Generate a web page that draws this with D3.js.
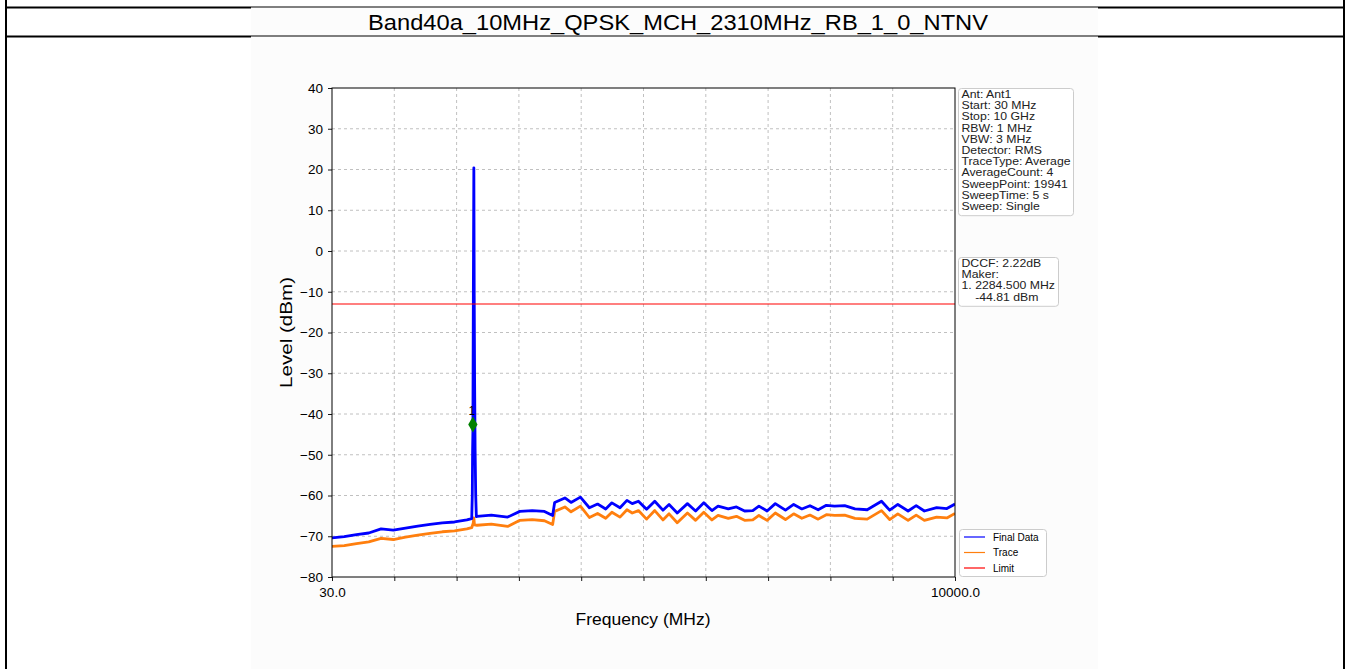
<!DOCTYPE html>
<html>
<head>
<meta charset="utf-8">
<script src="https://cdn.jsdelivr.net/npm/d3@7"></script>
<style>
  body { margin: 0; background: #fff; }
  svg text { font-family: "Liberation Sans", Arial, sans-serif; }
</style>
</head>
<body>
<div id="chart"></div>
<script>
const titleText = "Band40a_10MHz_QPSK_MCH_2310MHz_RB_1_0_NTNV";

// Final Data (blue) - frequency in MHz, level in dBm
const finalFreq = [30, 226, 422, 618, 815, 1011, 1207, 1403, 1599, 1795, 1991, 2188, 2266,
    2275, 2280, 2284.5, 2292, 2300, 2306, 2312, 2320, 2330, 2340,
    2351, 2580, 2841, 3037, 3234, 3430, 3561, 3593, 3757, 3855, 4005, 4149, 4280, 4410, 4509,
    4639, 4750, 4835, 4934, 5064, 5195, 5326, 5424, 5555, 5718, 5849, 5980, 6110, 6208, 6372,
    6502, 6633, 6764, 6862, 6993, 7124, 7287, 7418, 7549, 7679, 7810, 7941, 8072, 8235, 8399,
    8595, 8824, 8954, 9085, 9249, 9379, 9510, 9706, 9870, 10000];
const finalLevel = [-70.4, -70.1, -69.6, -69.2, -68.2, -68.5, -68.0, -67.5, -67.1, -66.7, -66.5, -66.0, -65.7,
    -60.0, -49.0, -44.81, -10.8, 20.4, -11.0, -31.5, -48.5, -60.0, -65.2,
    -65.1, -64.8, -65.3, -63.9, -63.7, -63.9, -64.9, -61.7, -60.6, -61.7, -60.4, -63.0, -62.1, -63.3, -61.8,
    -63.0, -61.2, -62.0, -61.4, -63.4, -61.4, -63.6, -62.2, -64.3, -62.0, -63.8, -61.8, -63.7, -62.6, -63.3,
    -62.8, -63.8, -63.7, -62.6, -63.8, -62.0, -63.6, -62.2, -63.3, -62.5, -63.5, -62.4, -62.6, -62.5, -63.3,
    -63.5, -61.4, -63.6, -62.2, -63.8, -62.5, -63.8, -63.0, -63.2, -62.1];

// Trace (orange)
const traceFreq = [30, 226, 422, 618, 815, 1011, 1207, 1403, 1599, 1795, 1991, 2188, 2266,
    2290, 2300, 2310,
    2351, 2580, 2841, 3037, 3234, 3430, 3561, 3593, 3757, 3855, 4005, 4149, 4280, 4410, 4509,
    4639, 4750, 4835, 4934, 5064, 5195, 5326, 5424, 5555, 5718, 5849, 5980, 6110, 6208, 6372,
    6502, 6633, 6764, 6862, 6993, 7124, 7287, 7418, 7549, 7679, 7810, 7941, 8072, 8235, 8399,
    8595, 8824, 8954, 9085, 9249, 9379, 9510, 9706, 9870, 10000];
const traceLevel = [-72.5, -72.3, -71.8, -71.4, -70.5, -70.8, -70.2, -69.7, -69.3, -68.9, -68.7, -68.2, -67.9,
    -66.8, -65.5, -67.2,
    -67.3, -67.0, -67.6, -66.1, -65.9, -66.2, -67.1, -63.9, -62.8, -64.0, -62.6, -65.4, -64.4, -65.6, -64.1,
    -65.3, -63.5, -64.3, -63.7, -65.8, -63.7, -66.0, -64.5, -66.7, -64.3, -66.1, -64.1, -66.0, -64.9, -65.6,
    -65.1, -66.1, -66.0, -64.9, -66.1, -64.3, -65.9, -64.5, -65.6, -64.8, -65.8, -64.7, -64.9, -64.8, -65.6,
    -65.8, -63.7, -65.9, -64.5, -66.1, -64.8, -66.1, -65.3, -65.5, -64.4];

const limitLevel = -13;
const markerFreq = 2284.5;
const markerLevel = -44.81;
const dccf = 2.22;

const yTicks = [40, 30, 20, 10, 0, -10, -20, -30, -40, -50, -60, -70, -80];
const xTickCount = 10;

const infoLines = ["Ant: Ant1", "Start: 30 MHz", "Stop: 10 GHz", "RBW: 1 MHz", "VBW: 3 MHz",
    "Detector: RMS", "TraceType: Average", "AverageCount: 4", "SweepPoint: 19941",
    "SweepTime: 5 s", "Sweep: Single"];
const markerLines = ["DCCF: 2.22dB", "Maker:", "1. 2284.500 MHz", "    -44.81 dBm"];
const legendNames = ["Final Data", "Trace", "Limit"];
const legendColors = ["#0000ff", "#ff7f0e", "#ff0000"];

const W = 1346, H = 669;
const plot = {left: 332, right: 955, top: 88, bottom: 577};

const svg = d3.select("#chart").append("svg")
    .attr("width", W).attr("height", H);

// figure background (image area)
svg.append("rect").attr("x", 251).attr("y", 8).attr("width", 847).attr("height", H - 8)
    .attr("fill", "#fcfcfc");

// table borders
const border = svg.append("g").attr("stroke", "#000");
[7.5, 36.5].forEach(yy => {
    border.append("line").attr("x1", 5).attr("x2", 251).attr("y1", yy).attr("y2", yy).attr("stroke-width", 2);
    border.append("line").attr("x1", 1098).attr("x2", 1345).attr("y1", yy).attr("y2", yy).attr("stroke-width", 2);
    border.append("line").attr("x1", 251).attr("x2", 1098).attr("y1", yy - 0.5).attr("y2", yy - 0.5).attr("stroke-width", 1);
});
border.append("line").attr("x1", 6).attr("x2", 6).attr("y1", 0).attr("y2", H).attr("stroke-width", 2);
border.append("line").attr("x1", 1344).attr("x2", 1344).attr("y1", 0).attr("y2", H).attr("stroke-width", 2);

svg.append("text").attr("x", 678).attr("y", 30).attr("text-anchor", "middle")
    .attr("font-size", 22).attr("textLength", 620).attr("lengthAdjust", "spacingAndGlyphs")
    .attr("fill", "#000").text(titleText);

const x = d3.scaleLinear().domain([30, 10000]).range([plot.left, plot.right]);
const y = d3.scaleLinear().domain([-80, 40]).range([plot.bottom, plot.top]);

svg.append("rect").attr("x", plot.left).attr("y", plot.top)
    .attr("width", plot.right - plot.left).attr("height", plot.bottom - plot.top).attr("fill", "#fff");

const xTickVals = d3.range(xTickCount + 1).map(i => 30 + i * (10000 - 30) / xTickCount);

// grid
const grid = svg.append("g").attr("stroke", "#b0b0b0").attr("stroke-width", 0.8).attr("stroke-dasharray", "3,3");
grid.selectAll(".gx").data(xTickVals.slice(1, -1)).enter().append("line")
    .attr("x1", d => x(d)).attr("x2", d => x(d)).attr("y1", plot.top).attr("y2", plot.bottom);
grid.selectAll(".gy").data(yTicks.slice(1, -1)).enter().append("line")
    .attr("x1", plot.left).attr("x2", plot.right).attr("y1", d => y(d)).attr("y2", d => y(d));

svg.append("clipPath").attr("id", "clip").append("rect")
    .attr("x", plot.left).attr("y", plot.top).attr("width", plot.right - plot.left).attr("height", plot.bottom - plot.top);

const line = d3.line().x(d => x(d[0])).y(d => y(d[1]));
const g = svg.append("g").attr("clip-path", "url(#clip)");

g.append("path").datum(traceFreq.map((f, i) => [f, traceLevel[i]]))
    .attr("d", line).attr("fill", "none").attr("stroke", "#ff7f0e").attr("stroke-width", 2.8)
    .attr("stroke-linejoin", "round");
g.append("path").datum(finalFreq.map((f, i) => [f, finalLevel[i]]))
    .attr("d", line).attr("fill", "none").attr("stroke", "#0000ff").attr("stroke-width", 2.8)
    .attr("stroke-linejoin", "round");
g.append("line").attr("x1", x(30)).attr("x2", x(10000)).attr("y1", y(limitLevel)).attr("y2", y(limitLevel))
    .attr("stroke", "#ff0000").attr("stroke-width", 1.2);

// marker
const mx = x(markerFreq), my = y(markerLevel + dccf);
svg.append("path").attr("d", d3.symbol().type(d3.symbolDiamond).size(75)())
    .attr("transform", `translate(${mx},${my})`).attr("fill", "#008000");
svg.append("text").attr("x", mx - 1).attr("y", my - 10).attr("text-anchor", "middle")
    .attr("font-size", 12).attr("fill", "#000").text("1");

// axes
const xAxis = d3.axisBottom(x).tickValues(xTickVals).tickSize(4).tickPadding(6)
    .tickFormat((d, i) => (i === 0 || i === xTickCount) ? d.toFixed(1) : "");
const yAxis = d3.axisLeft(y).tickValues(yTicks).tickSize(4).tickPadding(5)
    .tickFormat(d => d < 0 ? "\u2212" + Math.abs(d) : d);

const gx = svg.append("g").attr("transform", `translate(0,${plot.bottom})`).call(xAxis);
const gy = svg.append("g").attr("transform", `translate(${plot.left},0)`).call(yAxis);
[gx, gy].forEach(a => {
    a.select(".domain").remove();
    a.selectAll("line").attr("stroke", "#000").attr("stroke-width", 0.9);
    a.selectAll("text").attr("font-size", 13.5).attr("fill", "#000")
        .attr("font-family", "'Liberation Sans', Arial, sans-serif");
});

// spines
svg.append("rect").attr("x", plot.left).attr("y", plot.top)
    .attr("width", plot.right - plot.left).attr("height", plot.bottom - plot.top)
    .attr("fill", "none").attr("stroke", "#000").attr("stroke-width", 1);

svg.append("text").attr("x", 643).attr("y", 625).attr("text-anchor", "middle")
    .attr("font-size", 17).attr("textLength", 135).attr("lengthAdjust", "spacingAndGlyphs")
    .attr("fill", "#000").text("Frequency (MHz)");
svg.append("text").attr("transform", `translate(292,${(plot.top + plot.bottom) / 2}) rotate(-90)`)
    .attr("text-anchor", "middle").attr("font-size", 17).attr("textLength", 111)
    .attr("lengthAdjust", "spacingAndGlyphs").attr("fill", "#000").text("Level (dBm)");

// text boxes: small font, stretched sideways like the reference
function textBox(x0, y0, w, lines, pitch) {
    const h = lines.length * pitch + 4;
    svg.append("rect").attr("x", x0).attr("y", y0).attr("width", w).attr("height", h)
        .attr("rx", 3).attr("fill", "#fff").attr("fill-opacity", 0.85)
        .attr("stroke", "#cccccc").attr("stroke-width", 1);
    svg.append("g").selectAll("text").data(lines).enter().append("text")
        .attr("x", x0 + 3).attr("y", (d, i) => y0 + 9.5 + i * pitch)
        .attr("font-size", 10.4).attr("fill", "#222").attr("xml:space", "preserve")
        .style("white-space", "pre").text(d => d)
        .each(function() {
            const len = this.getComputedTextLength();
            d3.select(this).attr("textLength", len * 1.18).attr("lengthAdjust", "spacingAndGlyphs");
        });
}
textBox(958.5, 88.5, 115, infoLines, 11.2);
textBox(958.5, 257.5, 100, markerLines, 11.2);

// legend
const lg = svg.append("g");
lg.append("rect").attr("x", 959.5).attr("y", 529.5).attr("width", 87).attr("height", 47)
    .attr("rx", 3).attr("fill", "#fff").attr("stroke", "#cccccc");
legendNames.forEach((name, i) => {
    const yy = 537 + i * 15.5;
    lg.append("line").attr("x1", 964).attr("x2", 985).attr("y1", yy).attr("y2", yy)
        .attr("stroke", legendColors[i]).attr("stroke-width", 1.2);
    lg.append("text").attr("x", 993).attr("y", yy + 3.5).attr("font-size", 10).attr("fill", "#000").text(name);
});
</script>
</body>
</html>
